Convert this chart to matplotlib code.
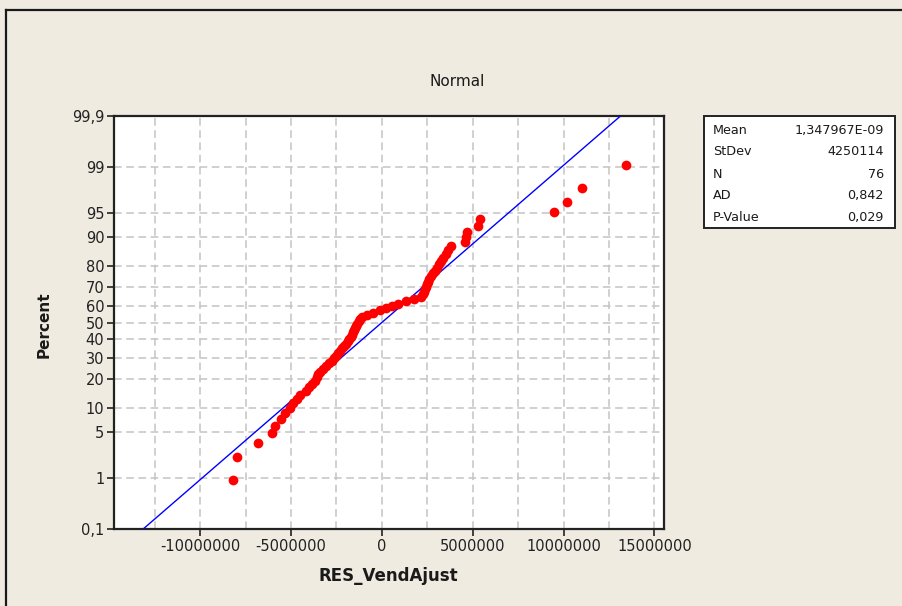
import numpy as np
import matplotlib
matplotlib.use("Agg")
import matplotlib.pyplot as plt
from matplotlib.patches import Rectangle
from matplotlib.lines import Line2D
from matplotlib.ticker import FixedLocator, MultipleLocator, FuncFormatter
from statistics import NormalDist

# ---------------- data ----------------
residuals_millions = [
    -8.19, -7.97, -6.81, -6.04, -5.88, -5.55, -5.33, -5.05, -4.88, -4.66,
    -4.50, -4.17, -4.00, -3.84, -3.67, -3.56, -3.51, -3.40, -3.23, -3.07,
    -2.90, -2.74, -2.63, -2.52, -2.41, -2.30, -2.19, -2.08, -1.97, -1.86,
    -1.80, -1.69, -1.64, -1.58, -1.53, -1.47, -1.42, -1.36, -1.25, -1.20,
    -1.08, -0.81, -0.48, -0.09, 0.24, 0.57, 0.90, 1.34, 1.78, 2.16,
    2.27, 2.33, 2.38, 2.44, 2.49, 2.55, 2.60, 2.71, 2.82, 2.93,
    3.04, 3.15, 3.27, 3.38, 3.54, 3.65, 3.82, 4.59, 4.64, 4.70,
    5.30, 5.41, 9.49, 10.20, 11.03, 13.45,
]
fit_mean = 1.347967e-09
fit_stdev = 4250114.0

percent_ticks = [0.1, 1, 5, 10, 20, 30, 40, 50, 60, 70, 80, 90, 95, 99, 99.9]
percent_tick_labels = ["0,1", "1", "5", "10", "20", "30", "40", "50", "60",
                       "70", "80", "90", "95", "99", "99,9"]
x_ticks = [-10000000, -5000000, 0, 5000000, 10000000, 15000000]

stat_names = ["Mean", "StDev", "N", "AD", "P-Value"]
stat_values = ["1,347967E-09", "4250114", "76", "0,842", "0,029"]

title_text = "Normal"
x_label = "RES_VendAjust"
y_label = "Percent"

# ---------------- figure ----------------
W, H = 902, 606
bg = "#EFEBE1"
fig = plt.figure(figsize=(W / 100, H / 100), dpi=100, facecolor=bg)

def fx(px):
    return px / W

def fy(py):
    return 1 - py / H

# outer frame (cropped at right/bottom)
fig.add_artist(Line2D([fx(6), fx(6)], [0, fy(10)], color="#1a1a1a", lw=1.6,
                      transform=fig.transFigure))
fig.add_artist(Line2D([fx(6), 1], [fy(10), fy(10)], color="#1a1a1a", lw=1.6,
                      transform=fig.transFigure))

left, right, top, bottom = 114, 663.5, 116, 529
ax = fig.add_axes([fx(left), fy(bottom), fx(right - left), (bottom - top) / H])
ax.set_facecolor("white")

nd = NormalDist()

def fwd(p):
    p = np.asarray(p, dtype=float)
    out = np.empty_like(p)
    flat = p.ravel()
    o = out.ravel()
    for i, v in enumerate(flat):
        if not np.isfinite(v):
            o[i] = np.nan
        else:
            o[i] = nd.inv_cdf(min(max(v / 100.0, 1e-12), 1 - 1e-12))
    return out

def inv(z):
    z = np.asarray(z, dtype=float)
    out = np.empty_like(z)
    flat = z.ravel()
    o = out.ravel()
    for i, v in enumerate(flat):
        o[i] = nd.cdf(v) * 100.0 if np.isfinite(v) else np.nan
    return out

ax.set_yscale("function", functions=(fwd, inv))

x = np.sort(np.array(residuals_millions) * 1e6)
n = len(x)
ranks = np.arange(1, n + 1)
pct = (ranks - 0.3) / (n + 0.4) * 100

# fitted line
p_line = np.array([0.1, 99.9])
x_line = fit_mean + fit_stdev * np.array([nd.inv_cdf(p / 100) for p in p_line])
ax.plot(x_line, p_line, color="#0000FF", lw=1.0, zorder=3)

ax.plot(x, pct, "o", color="#FF0000", markersize=7, markeredgewidth=0, zorder=4)

ax.set_xlim(-14.74e6, 15.5e6)
ax.set_ylim(0.1, 99.9)

ax.yaxis.set_major_locator(FixedLocator(percent_ticks))
ax.yaxis.set_major_formatter(FuncFormatter(
    lambda v, pos: percent_tick_labels[pos] if pos is not None and pos < len(percent_tick_labels) else ""))
ax.yaxis.set_minor_locator(FixedLocator([]))
ax.xaxis.set_major_locator(FixedLocator(x_ticks))
ax.xaxis.set_minor_locator(MultipleLocator(2500000))
ax.xaxis.set_major_formatter(FuncFormatter(lambda v, pos: str(int(round(v)))))

grid_kw = dict(color="#C4C4C4", lw=1.1, linestyle=(0, (5, 3)))
ax.grid(True, axis="y", which="major", **grid_kw)
ax.grid(True, axis="x", which="both", **grid_kw)
ax.set_axisbelow(True)

ax.tick_params(axis="both", which="major", direction="out", length=5,
               width=1.2, color="#222222", labelcolor="#222222", pad=2)
ax.tick_params(axis="x", which="minor", length=0)
for lab in ax.get_xticklabels() + ax.get_yticklabels():
    lab.set_fontfamily("DejaVu Sans")
    lab.set_fontsize(10.5)

for s in ax.spines.values():
    s.set_color("#222222")
    s.set_linewidth(1.6)

# axis labels and title
fig.text(fx(388.5), fy(576), x_label, ha="center", va="center",
         fontsize=12, fontweight="bold", color="#1a1a1a", family="DejaVu Sans")
fig.text(fx(44), fy(325), y_label, ha="center", va="center", rotation=90,
         fontsize=11, fontweight="bold", color="#1a1a1a", family="DejaVu Sans")
fig.text(fx(457), fy(81), title_text, ha="center", va="center",
         fontsize=11, color="#1a1a1a", family="DejaVu Sans")

# statistics box
bx0, by0, bx1, by1 = 704, 116, 895, 228
fig.add_artist(Rectangle((fx(bx0), fy(by1)), fx(bx1 - bx0), (by1 - by0) / H,
                         transform=fig.transFigure, facecolor="white",
                         edgecolor="#222222", lw=1.4))
row_y = [130.7, 151.7, 174, 196, 217.3]
for name, val, ry in zip(stat_names, stat_values, row_y):
    fig.text(fx(713), fy(ry), name, ha="left", va="center", fontsize=9.2,
             color="#1a1a1a", family="DejaVu Sans")
    fig.text(fx(884), fy(ry), val, ha="right", va="center", fontsize=9.2,
             color="#1a1a1a", family="DejaVu Sans")

fig.savefig("out.png", dpi=100, facecolor=bg)
